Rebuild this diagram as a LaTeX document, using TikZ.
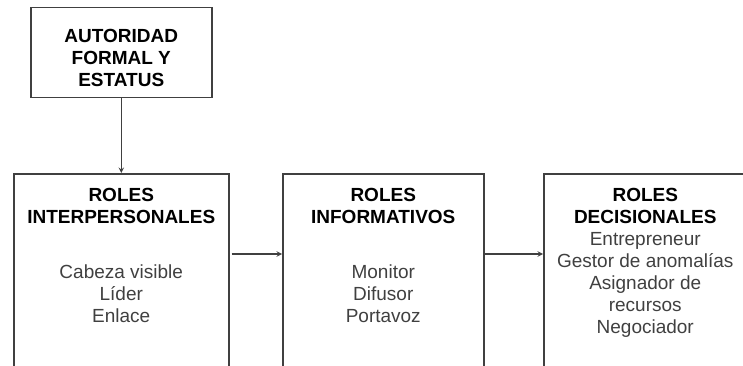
\documentclass[tikz,border=0pt]{standalone}
\usepackage{fontspec}
\setmainfont{Liberation Sans}
\usetikzlibrary{arrows,positioning}
\tikzset{
    box/.style={rectangle,draw=black!75,line width=1.5pt,anchor=north west,inner sep=0pt},
    head/.style={align=center,inner sep=0pt,font=\fontsize{19}{22}\selectfont\bfseries},
    items/.style={align=center,inner sep=0pt,text=black!75,font=\fontsize{19}{22}\selectfont},
    pre/.style={->,line width=1.4pt,draw=black!75,>=stealth}
}

\begin{document}
\begin{tikzpicture}[x=1pt,y=1pt]

    \useasboundingbox (0,0) rectangle (743,-366);
    \clip (0,0) rectangle (743,-366);

    \node[box,head,minimum width=181pt,minimum height=90pt] (autoridad) at (30,-7) {\rule{0pt}{24pt}AUTORIDAD\\FORMAL Y\\ESTATUS};

    \node[box,minimum width=215pt,minimum height=240pt] (interpersonales) at (13,-173) {};
    \node[head,below=15pt of interpersonales.north] (inter head) {ROLES\\INTERPERSONALES};
    \node[items,below=41pt of inter head] (inter items) {Cabeza visible\\Líder\\Enlace};

    \node[box,minimum width=201pt,minimum height=240pt] (informativos) at (282,-173) {};
    \node[head,below=15pt of informativos.north] (info head) {ROLES\\INFORMATIVOS};
    \node[items,below=41pt of info head] (info items) {Monitor\\Difusor\\Portavoz};

    \node[box,minimum width=203pt,minimum height=240pt] (decisionales) at (543,-173) {};
    \node[head,below=15pt of decisionales.north] (deci head) {ROLES\\DECISIONALES};
    \node[items,below=8pt of deci head] (deci items) {Entrepreneur\\Gestor de anomalías\\Asignador de\\recursos\\Negociador};

    \draw[pre] (autoridad.south) -- (interpersonales.north);
    \draw[pre] ([xshift=2pt,yshift=-81pt]interpersonales.north east) -- ([yshift=-81pt]informativos.north west);
    \draw[pre] ([yshift=-81pt]informativos.north east) -- ([yshift=-81pt]decisionales.north west);

\end{tikzpicture}
\end{document}
